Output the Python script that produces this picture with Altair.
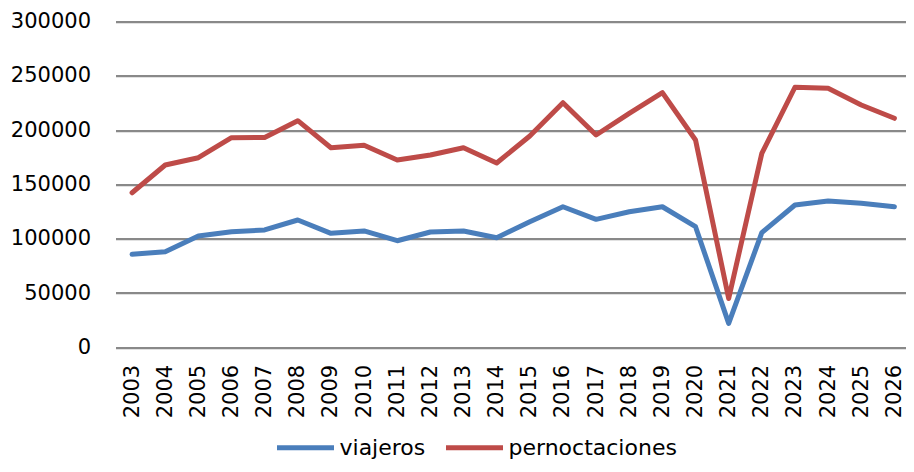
import altair as alt
import pandas as pd

years = list(range(2003, 2027))
viajeros = [85700, 88100, 102600, 106500, 108100, 117300, 105000, 107200, 98200,
            106200, 107200, 101000, 115700, 129500, 117900, 124900, 129500, 111100,
            22000, 105600, 131100, 134800, 132700, 129500]
pernoctaciones = [142400, 168000, 174700, 193100, 193300, 208800, 183900, 186100,
                  172600, 177200, 183900, 169800, 194700, 225400, 195600, 215600,
                  234600, 191000, 45000, 178700, 239600, 238600, 223300, 211000]
series = ["viajeros", "pernoctaciones"]
colors = ["#4A7EBB", "#BE4B48"]

rows = []
for y, v, p in zip(years, viajeros, pernoctaciones):
    rows.append({"year": y, "serie": series[0], "value": v})
    rows.append({"year": y, "serie": series[1], "value": p})
df = pd.DataFrame(rows)

FONT = "DejaVu Sans"

chart = alt.Chart(df).mark_line(strokeWidth=5, strokeCap="round", strokeJoin="round").encode(
    x=alt.X("year:Q",
            scale=alt.Scale(domain=[2002.5, 2026.35], nice=False, zero=False),
            axis=alt.Axis(values=years, format="d", labelAngle=-90, labelAlign="right",
                          labelBaseline="middle", labelPadding=17, ticks=False, domain=False,
                          grid=False, title=None, labelFont=FONT, labelFontSize=21,
                          labelColor="#000000", labelOverlap=False, labelFlush=False)),
    y=alt.Y("value:Q",
            scale=alt.Scale(domain=[0, 300000], nice=False),
            axis=alt.Axis(values=[0, 50000, 100000, 150000, 200000, 250000, 300000],
                          format="d", ticks=False, domain=False, grid=True,
                          gridColor="#898989", gridWidth=2.2, gridOpacity=1,
                          labelPadding=25, title=None, labelFont=FONT, labelFontSize=21,
                          labelColor="#000000")),
    color=alt.Color("serie:N",
                    scale=alt.Scale(domain=series, range=colors),
                    sort=series,
                    legend=alt.Legend(orient="none", direction="horizontal", title=None,
                                      legendX=159, legendY=395,
                                      symbolType="stroke", symbolStrokeWidth=5,
                                      symbolSize=3249, labelFont=FONT,
                                      labelFontSize=22, labelColor="#000000",
                                      labelOffset=3, columnPadding=10, padding=0,
                                      labelLimit=400)),
).properties(
    width=790.5,
    height=325.6,
    background="#ffffff",
    autosize=alt.AutoSizeParams(type="none"),
    padding={"left": 107.5, "top": 13.7, "right": 0, "bottom": 116.7},
).configure_view(strokeWidth=0, stroke="transparent")

chart.save("out.html", embed_options={"renderer": "svg", "actions": False})
